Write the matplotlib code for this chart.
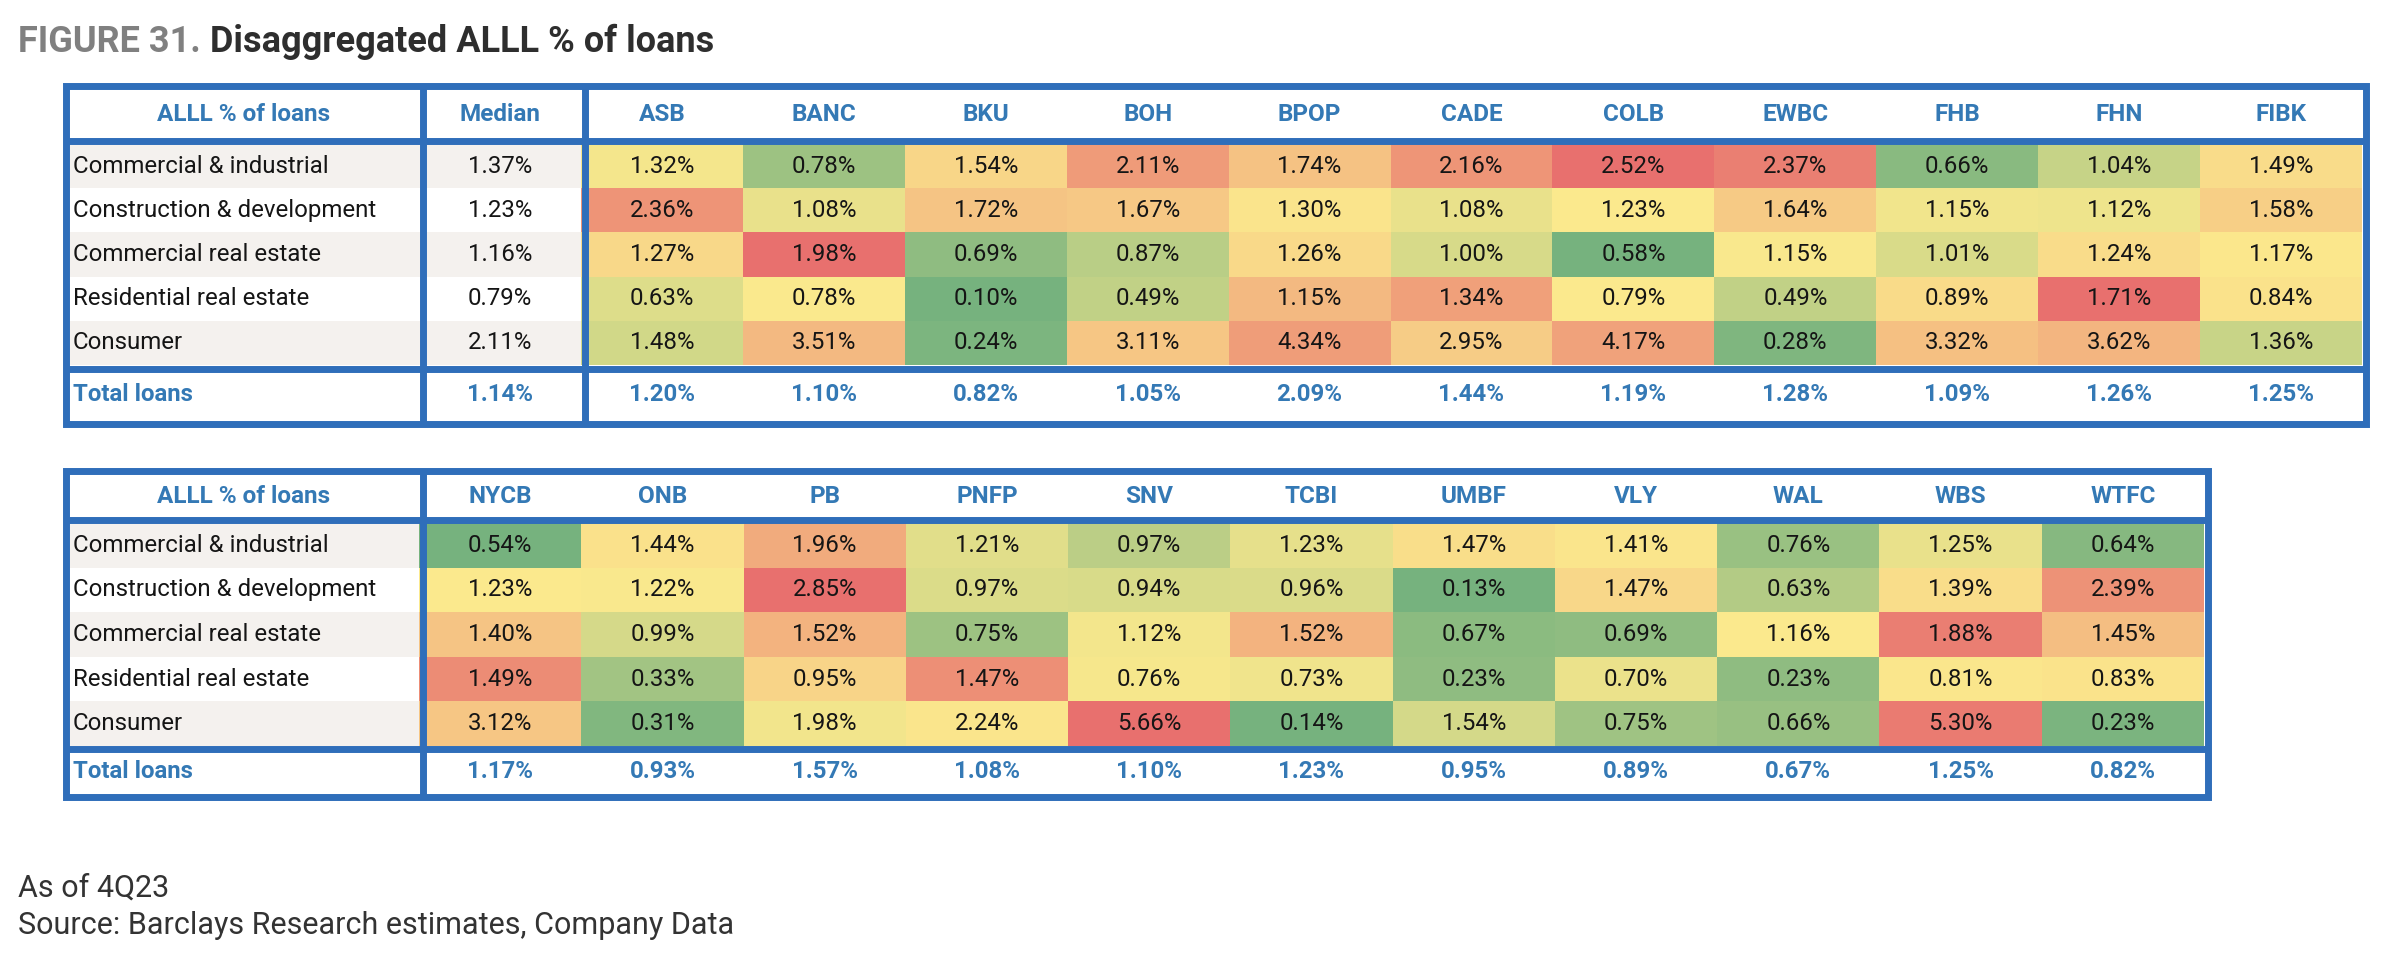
import numpy as np
import matplotlib
matplotlib.use("Agg")
import matplotlib.pyplot as plt
from matplotlib.patches import Rectangle
from matplotlib.colors import LinearSegmentedColormap, TwoSlopeNorm

plt.rcParams['font.family'] = ['Roboto', 'DejaVu Sans']

# данные
row_labels = ["Commercial & industrial", "Construction & development",
              "Commercial real estate", "Residential real estate", "Consumer"]

banks_1 = ["ASB", "BANC", "BKU", "BOH", "BPOP", "CADE", "COLB", "EWBC", "FHB", "FHN", "FIBK"]
ci_1 = [1.32, 0.78, 1.54, 2.11, 1.74, 2.16, 2.52, 2.37, 0.66, 1.04, 1.49]
cd_1 = [2.36, 1.08, 1.72, 1.67, 1.30, 1.08, 1.23, 1.64, 1.15, 1.12, 1.58]
cre_1 = [1.27, 1.98, 0.69, 0.87, 1.26, 1.00, 0.58, 1.15, 1.01, 1.24, 1.17]
rre_1 = [0.63, 0.78, 0.10, 0.49, 1.15, 1.34, 0.79, 0.49, 0.89, 1.71, 0.84]
cons_1 = [1.48, 3.51, 0.24, 3.11, 4.34, 2.95, 4.17, 0.28, 3.32, 3.62, 1.36]
total_1 = [1.20, 1.10, 0.82, 1.05, 2.09, 1.44, 1.19, 1.28, 1.09, 1.26, 1.25]

banks_2 = ["NYCB", "ONB", "PB", "PNFP", "SNV", "TCBI", "UMBF", "VLY", "WAL", "WBS", "WTFC"]
ci_2 = [0.54, 1.44, 1.96, 1.21, 0.97, 1.23, 1.47, 1.41, 0.76, 1.25, 0.64]
cd_2 = [1.23, 1.22, 2.85, 0.97, 0.94, 0.96, 0.13, 1.47, 0.63, 1.39, 2.39]
cre_2 = [1.40, 0.99, 1.52, 0.75, 1.12, 1.52, 0.67, 0.69, 1.16, 1.88, 1.45]
rre_2 = [1.49, 0.33, 0.95, 1.47, 0.76, 0.73, 0.23, 0.70, 0.23, 0.81, 0.83]
cons_2 = [3.12, 0.31, 1.98, 2.24, 5.66, 0.14, 1.54, 0.75, 0.66, 5.30, 0.23]
total_2 = [1.17, 0.93, 1.57, 1.08, 1.10, 1.23, 0.95, 0.89, 0.67, 1.25, 0.82]

median_vals = [1.37, 1.23, 1.16, 0.79, 2.11]
median_total = 1.14

vals_1 = np.array([ci_1, cd_1, cre_1, rre_1, cons_1])
vals_2 = np.array([ci_2, cd_2, cre_2, rre_2, cons_2])

# цвета
BLUE_LINE = '#2F6EBA'
BLUE_TXT = '#3479B5'
GREY_BG = '#F4F1EE'
TXT = '#151515'
cmap = LinearSegmentedColormap.from_list('gyr', ['#76B27E', '#FBE98D', '#E8706E'])

# шкала по строке, по обеим таблицам сразу
both = np.hstack([vals_1, vals_2])
norms = [TwoSlopeNorm(vmin=r.min(), vcenter=np.median(r), vmax=r.max()) for r in both]

fig = plt.figure(figsize=(23.92, 9.74), dpi=100)
ax = fig.add_axes([0, 0, 1, 1])
ax.set_xlim(0, 2392)
ax.set_ylim(974, 0)
ax.axis('off')

LW = 5.0  # ~7 px
FS_HEAD = 17.5
FS_CELL = 17.3


def draw_table(y_top, y_hsep, y_data0, y_data1, y_tsep, y_bot,
               x_left, x_lab, x_med, x_right, banks, vals, tot, with_median):
    nrow = len(row_labels)
    rh = (y_data1 - y_data0) / nrow
    ncol = len(banks)
    x_d0 = x_med if with_median else x_lab
    cw = (x_right - x_d0) / ncol
    ymid_head = (y_top + y_hsep) / 2
    ymid_tot = (y_tsep + y_bot) / 2

    # заголовок
    ax.text((x_left + x_lab) / 2, ymid_head, "ALLL % of loans", ha='center', va='center',
            fontsize=FS_HEAD, fontweight='bold', color=BLUE_TXT)
    if with_median:
        ax.text((x_lab + x_med) / 2, ymid_head, "Median", ha='center', va='center',
                fontsize=FS_HEAD, fontweight='bold', color=BLUE_TXT)
    for j, b in enumerate(banks):
        ax.text(x_d0 + cw * (j + 0.5), ymid_head, b, ha='center', va='center',
                fontsize=FS_HEAD, fontweight='bold', color=BLUE_TXT)

    for i, lab in enumerate(row_labels):
        y0 = y_data0 + i * rh
        yc = y0 + rh / 2
        bg = GREY_BG if i % 2 == 0 else 'white'
        ax.add_patch(Rectangle((x_left, y0), x_d0 - x_left, rh, facecolor=bg, edgecolor='none'))
        ax.text(x_left + 4, yc, lab, ha='left', va='center', fontsize=FS_CELL, color=TXT)
        if with_median:
            ax.text((x_lab + x_med) / 2, yc, f"{median_vals[i]:.2f}%", ha='center', va='center',
                    fontsize=FS_CELL, color=TXT)
        for j in range(ncol):
            v = vals[i, j]
            ax.add_patch(Rectangle((x_d0 + j * cw, y0), cw, rh,
                                   facecolor=cmap(norms[i](v)), edgecolor='none'))
            ax.text(x_d0 + cw * (j + 0.5), yc, f"{v:.2f}%", ha='center', va='center',
                    fontsize=FS_CELL, color=TXT)

    # итоговая строка
    ax.text(x_left + 4, ymid_tot, "Total loans", ha='left', va='center',
            fontsize=FS_CELL, fontweight='bold', color=BLUE_TXT)
    if with_median:
        ax.text((x_lab + x_med) / 2, ymid_tot, f"{median_total:.2f}%", ha='center', va='center',
                fontsize=FS_CELL, fontweight='bold', color=BLUE_TXT)
    for j, v in enumerate(tot):
        ax.text(x_d0 + cw * (j + 0.5), ymid_tot, f"{v:.2f}%", ha='center', va='center',
                fontsize=FS_CELL, fontweight='bold', color=BLUE_TXT)

    # линии
    ax.add_patch(Rectangle((x_left - 3.5, y_top - 3.5), x_right - x_left + 7, y_bot - y_top + 7,
                           fill=False, edgecolor=BLUE_LINE, lw=LW, joinstyle='miter'))
    ax.hlines([y_hsep, y_tsep], x_left - 3.5, x_right + 3.5, colors=BLUE_LINE, lw=LW)
    xs = [x_lab + 3.5, x_med + 3.5] if with_median else [x_lab + 3.5]
    ax.vlines(xs, y_top - 3.5, y_bot + 3.5, colors=BLUE_LINE, lw=LW)


# таблица 1
draw_table(89, 140.5, 144, 365, 368.5, 420, 69, 419, 581, 2362,
           banks_1, vals_1, total_1, True)
# таблица 2
draw_table(474, 519.5, 523, 746, 749, 793, 69, 419, None, 2204,
           banks_2, vals_2, total_2, False)

# заголовок рисунка
t1 = ax.text(18, 42, "FIGURE 31.", ha='left', va='center', fontsize=26,
             fontweight='bold', color='#808080')
fig.canvas.draw()
bb = t1.get_window_extent(fig.canvas.get_renderer())
ax.text(bb.x1 + 9, 42, "Disaggregated ALLL % of loans", ha='left', va='center',
        fontsize=26, fontweight='bold', color='#2E2E2E')

ax.text(18, 888, "As of 4Q23", ha='left', va='center', fontsize=22, color='#333333')
ax.text(18, 926, "Source: Barclays Research estimates, Company Data", ha='left', va='center',
        fontsize=22, color='#333333')

fig.savefig('out.png', dpi=100)
